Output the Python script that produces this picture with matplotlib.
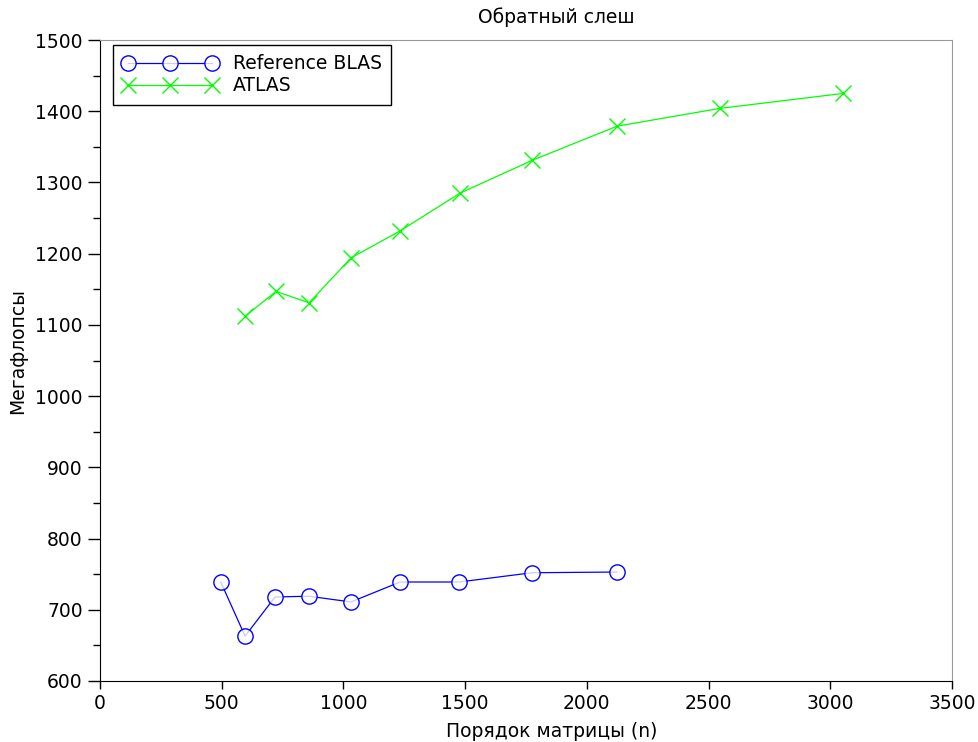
import numpy as np
import matplotlib.pyplot as plt
from matplotlib.ticker import MultipleLocator

# data
n_ref = [496, 596, 719, 859, 1031, 1233, 1475, 1775, 2124]
mflops_ref = [739, 663, 718, 719, 711, 739, 739, 752, 753]

n_atlas = [596, 723, 859, 1031, 1233, 1479, 1775, 2124, 2547, 3053]
mflops_atlas = [1112, 1147, 1131, 1194, 1232, 1285, 1331, 1379, 1404, 1425]

fs = 13.5
plt.rcParams['font.family'] = ['DejaVu Sans']
plt.rcParams['font.size'] = fs

fig = plt.figure(figsize=(9.79, 7.42), dpi=100)
ax = fig.add_axes([100/979, 61/742, 852/979, 641/742])

ax.plot(n_ref, mflops_ref, color='blue', lw=0.9, marker='o', ms=11,
        mfc=(1, 1, 1, 0.8), mec='blue', mew=1.0, label='Reference BLAS')
ax.plot(n_atlas, mflops_atlas, color='#00ff00', lw=0.9, marker='x', ms=11,
        mew=1.0, label='ATLAS')

ax.set_xlim(0, 3500)
ax.set_ylim(600, 1500)
ax.xaxis.set_major_locator(MultipleLocator(500))
ax.yaxis.set_major_locator(MultipleLocator(100))
ax.yaxis.set_minor_locator(MultipleLocator(50))
ax.tick_params(axis='y', which='major', direction='out', length=9, width=1)
ax.tick_params(axis='y', which='minor', direction='out', length=5, width=1)
ax.tick_params(axis='x', which='major', direction='out', length=6, width=1)
ax.tick_params(labelsize=fs)

for s in ['top', 'right']:
    ax.spines[s].set_color('#999999')
    ax.spines[s].set_linewidth(0.8)

ax.set_title('Обратный слеш', fontsize=fs, pad=12, x=0.536)
ax.set_xlabel('Порядок матрицы (n)', fontsize=fs)
ax.xaxis.set_label_coords(0.53, -0.064)
ax.set_ylabel('Мегафлопсы', fontsize=fs)
ax.yaxis.set_label_coords(-0.086, 0.515)

leg = ax.legend(loc='upper left', bbox_to_anchor=(13/852, 1 - 5/641),
                borderaxespad=0, numpoints=3, handlelength=5.1,
                fancybox=False, framealpha=1, edgecolor='black',
                fontsize=fs, borderpad=0.5, labelspacing=0.15,
                handletextpad=0.8)
leg.get_frame().set_linewidth(1.0)

fig.savefig('out.png', dpi=100)
